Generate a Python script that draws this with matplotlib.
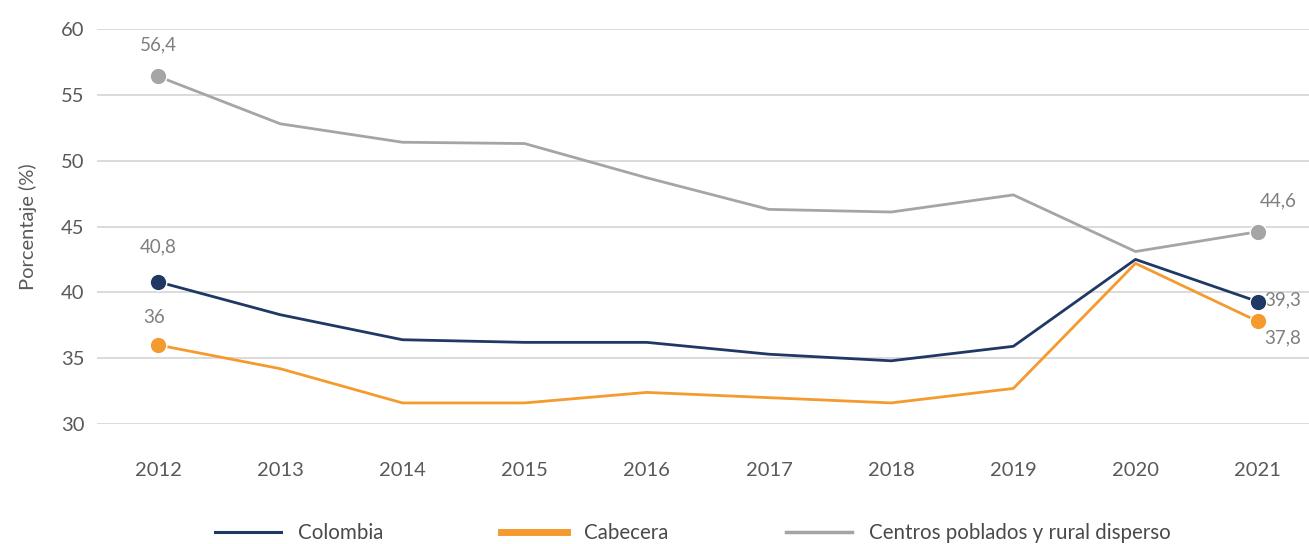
import matplotlib
matplotlib.use("Agg")
import matplotlib.pyplot as plt

# data
years = [2012, 2013, 2014, 2015, 2016, 2017, 2018, 2019, 2020, 2021]
colombia = [40.8, 38.3, 36.4, 36.2, 36.2, 35.3, 34.8, 35.9, 42.5, 39.3]
cabecera = [36.0, 34.2, 31.6, 31.6, 32.4, 32.0, 31.6, 32.7, 42.2, 37.8]
rural = [56.4, 52.8, 51.4, 51.3, 48.7, 46.3, 46.1, 47.4, 43.1, 44.6]
yticks = [30, 35, 40, 45, 50, 55, 60]

NAVY = "#1f3864"
ORANGE = "#f59a2f"
GRAY = "#a5a5a5"
TXT = "#595959"
LBL = "#7f7f7f"
FS = 14.5

plt.rcParams['font.family'] = ['Lato', 'DejaVu Sans']

fig = plt.figure(figsize=(13.09, 5.44), dpi=100)
ax = fig.add_axes([97/1309, 1-424/544, 1-97/1309, (424-29)/544])

series = [
    ("Colombia", colombia, NAVY),
    ("Cabecera", cabecera, ORANGE),
    ("Centros poblados y rural disperso", rural, GRAY),
]
handles = []
for name, vals, col in series:
    h, = ax.plot(years, vals, color=col, lw=2.0, label=name, zorder=3)
    handles.append(h)
    # end point markers
    ax.plot([years[0], years[-1]], [vals[0], vals[-1]], 'o', color=col,
            ms=12, mec='white', mew=1.0, zorder=4)

def fmt(v):
    s = "{:.1f}".format(v).replace(".", ",")
    return s[:-2] if s.endswith(",0") else s

# data labels: (value, x, y, offset in points)
labels = [
    (rural[0], years[0], rural[0], (0, 23)),
    (colombia[0], years[0], colombia[0], (0, 25)),
    (cabecera[0], years[0], cabecera[0], (-3, 20)),
    (rural[-1], years[-1], rural[-1], (15, 22)),
    (colombia[-1], years[-1], colombia[-1], (18, 1)),
    (cabecera[-1], years[-1], cabecera[-1], (18, -12)),
]
for v, x, y, off in labels:
    ax.annotate(fmt(v), (x, y), xytext=off, textcoords='offset points',
                ha='center', va='center', fontsize=13.5, color=LBL)

ax.set_xlim(2011.5, 2021.42)
ax.set_ylim(30, 60)
ax.set_yticks(yticks)
ax.set_xticks(years)
ax.grid(axis='y', color='#d4d4d4', lw=1.2, zorder=0)
ax.set_axisbelow(True)
for s in ax.spines.values():
    s.set_visible(False)
ax.tick_params(axis='both', length=0, labelsize=FS, colors=TXT)
ax.tick_params(axis='x', pad=27)
ax.tick_params(axis='y', pad=9)
ax.set_ylabel("Porcentaje (%)", fontsize=FS, color=TXT, labelpad=17)

leg = fig.legend(handles=handles, loc='center', bbox_to_anchor=(693/1309, 1-533/544), ncol=3,
                 frameon=False, fontsize=14.8, handlelength=3.2, handletextpad=0.85,
                 columnspacing=5.7, labelcolor="#4a4a4a")
for lh, w in zip(leg.get_lines(), [2.2, 5.0, 2.5]):
    lh.set_linewidth(w)

fig.savefig("out.png", dpi=100)
